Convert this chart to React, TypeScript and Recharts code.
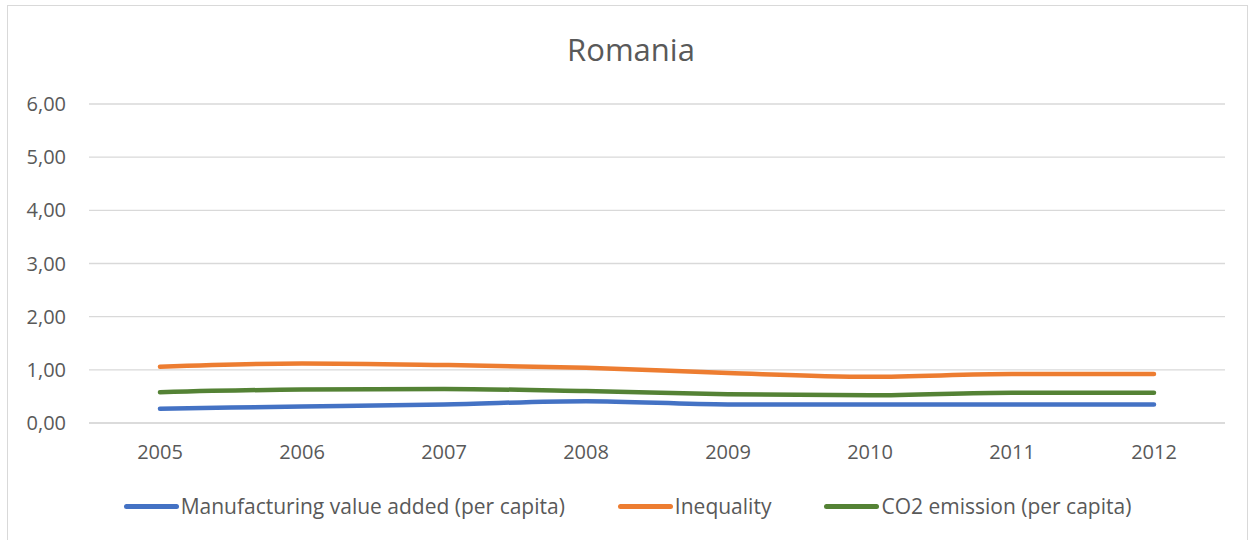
import React from 'react';
import { LineChart, Line, XAxis, YAxis, CartesianGrid } from 'recharts';

const years = ['2005', '2006', '2007', '2008', '2009', '2010', '2011', '2012'];
const manufacturing = [0.27, 0.31, 0.35, 0.41, 0.35, 0.35, 0.35, 0.35];
const inequality = [1.06, 1.12, 1.09, 1.04, 0.94, 0.87, 0.92, 0.92];
const co2 = [0.58, 0.63, 0.64, 0.6, 0.54, 0.52, 0.57, 0.57];
const yTicks = [0, 1, 2, 3, 4, 5, 6];

const seriesNames = ['Manufacturing value added (per capita)', 'Inequality', 'CO2 emission (per capita)'];
const seriesColors = ['#4472C4', '#ED7D31', '#548235'];

const data = years.map((y, i) => ({
  year: y,
  manufacturing: manufacturing[i],
  inequality: inequality[i],
  co2: co2[i],
}));

const FONT = '"Open Sans", sans-serif';
const TEXT = '#595959';

export default function App() {
  return (
    <div style={{ position: 'absolute', left: 0, top: 0, width: 1250, height: 540, background: '#fff' }}>
      <div style={{ position: 'absolute', left: 7, top: 5, width: 1241, height: 540, border: '1px solid #d9d9d9', boxSizing: 'border-box', background: '#fff' }}>
        <LineChart width={1239} height={534} data={data} margin={{ top: 98, right: 22, bottom: 87, left: 0 }}>
          <text x={623} y={55} textAnchor="middle" style={{ fontFamily: FONT, fontSize: 31, fill: TEXT }}>Romania</text>
          <CartesianGrid vertical={false} stroke="#d9d9d9" strokeWidth={1.3} />
          <XAxis
            dataKey="year"
            height={30}
            padding={{ left: 71, right: 71 }}
            axisLine={{ stroke: '#d9d9d9', strokeWidth: 1.3 }}
            tickLine={false}
            tickMargin={16}
            tick={{ fontFamily: FONT, fontSize: 20, fill: TEXT }}
          />
          <YAxis
            width={81}
            domain={[0, 6]}
            ticks={yTicks}
            axisLine={false}
            tickLine={false}
            tickMargin={17}
            tickFormatter={(v: number) => v.toFixed(2).replace('.', ',')}
            tick={{ fontFamily: FONT, fontSize: 20, fill: TEXT }}
          />
          <Line type="monotone" dataKey="manufacturing" name={seriesNames[0]} stroke={seriesColors[0]} strokeWidth={4.5} strokeLinecap="round" dot={false} isAnimationActive={false} />
          <Line type="monotone" dataKey="inequality" name={seriesNames[1]} stroke={seriesColors[1]} strokeWidth={4.5} strokeLinecap="round" dot={false} isAnimationActive={false} />
          <Line type="monotone" dataKey="co2" name={seriesNames[2]} stroke={seriesColors[2]} strokeWidth={4.5} strokeLinecap="round" dot={false} isAnimationActive={false} />
        </LineChart>
        <div style={{ position: 'absolute', left: 0, top: 486, width: 1239, display: 'flex', justifyContent: 'center', gap: 53, fontFamily: FONT, fontSize: 21, color: TEXT, lineHeight: '28px' }}>
          {seriesNames.map((n, i) => (
            <div key={n} style={{ display: 'flex', alignItems: 'center' }}>
              <span style={{ display: 'inline-block', width: 55, height: 5, borderRadius: 3, background: seriesColors[i], marginRight: 2 }} />
              <span>{n}</span>
            </div>
          ))}
        </div>
      </div>
    </div>
  );
}
